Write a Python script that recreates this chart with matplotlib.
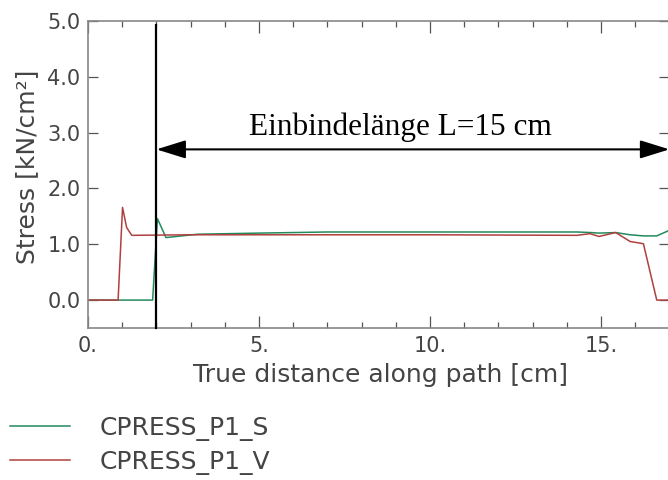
import matplotlib
matplotlib.use("Agg")
import matplotlib.pyplot as plt
from matplotlib.ticker import MultipleLocator, FixedLocator

# Data
dist_s = [0, 1.89, 2.03, 2.28, 3.2, 5, 7, 10, 13, 14.3, 14.7, 14.94, 15.43, 15.85, 16.24, 16.63, 17.0]
cpress_s = [0, 0, 1.46, 1.12, 1.18, 1.20, 1.22, 1.22, 1.22, 1.22, 1.21, 1.20, 1.21, 1.17, 1.15, 1.15, 1.25]

dist_v = [0, 0.88, 1.01, 1.13, 1.28, 3, 5, 10, 14.29, 14.68, 14.94, 15.43, 15.85, 16.24, 16.63, 17.0]
cpress_v = [0, 0, 1.66, 1.30, 1.16, 1.17, 1.17, 1.17, 1.16, 1.19, 1.14, 1.21, 1.05, 1.01, 0, 0]

series_names = ["CPRESS_P1_S", "CPRESS_P1_V"]
x_ticks = [0, 5, 10, 15]
x_tick_labels = ["0.", "5.", "10.", "15."]
y_ticks = [0, 1, 2, 3, 4, 5]
y_tick_labels = ["0.0", "1.0", "2.0", "3.0", "4.0", "5.0"]

marker_x = 2.0
arrow_y = 2.7
annotation = "Einbindelänge L=15 cm"

plt.rcParams['font.family'] = ['DejaVu Sans']

fig = plt.figure(figsize=(6.68, 4.8), dpi=100)
W, H = 668, 480
ax_left, ax_right, ax_top, ax_bottom = 88, 669.4, 21, 328
ax = fig.add_axes([ax_left / W, 1 - ax_bottom / H, (ax_right - ax_left) / W, (ax_bottom - ax_top) / H])

ls, = ax.plot(dist_s, cpress_s, color='#238a5c', lw=1.1, label=series_names[0])
lv, = ax.plot(dist_v, cpress_v, color='#b0403f', lw=1.1, label=series_names[1])

ax.set_xlim(0, 17)
ax.set_ylim(-0.5, 5.0)

ax.xaxis.set_major_locator(FixedLocator(x_ticks))
ax.set_xticklabels(x_tick_labels)
ax.xaxis.set_minor_locator(MultipleLocator(1))
ax.yaxis.set_major_locator(FixedLocator(y_ticks))
ax.set_yticklabels(y_tick_labels)

ax.tick_params(axis='x', which='major', direction='in', length=8.6, width=0.9,
               top=True, bottom=True, color='#555555', labelsize=15, labelcolor='#444444', pad=6)
ax.tick_params(axis='x', which='minor', direction='in', length=4.3, width=0.9,
               top=True, bottom=True, color='#555555')
ax.tick_params(axis='y', which='major', direction='in', length=7, width=0.9,
               left=True, right=True, color='#555555', labelsize=15, labelcolor='#444444', pad=5.5)

for sp in ax.spines.values():
    sp.set_color('#888888')
    sp.set_linewidth(1.2)

# vertical marker line and dimension arrow
ax.plot([marker_x, marker_x], [-0.5, 4.93], color='black', lw=1.6, clip_on=False, zorder=5)
ax.annotate('', xy=(17.0, arrow_y), xytext=(marker_x, arrow_y),
            arrowprops=dict(arrowstyle='<|-|>,head_length=0.9,head_width=0.28',
                            mutation_scale=20, color='black', lw=1.5,
                            shrinkA=0, shrinkB=0),
            annotation_clip=False, zorder=6)
ax.text(9.15, 2.96, annotation, ha='center', va='baseline',
        fontsize=22.5, family=['Liberation Serif', 'DejaVu Serif'], color='black')

fig.text(380 / W, 1 - 375 / H, "True distance along path [cm]", ha='center', va='center',
         fontsize=18, color='#444444')
fig.text(27 / W, 1 - 167 / H, "Stress [kN/cm²]", ha='center', va='center', rotation=90,
         fontsize=18, color='#444444')

fig.legend(handles=[ls, lv], loc='upper left', bbox_to_anchor=(10 / W, 1 - 416 / H),
           frameon=False, fontsize=18, handlelength=2.4, handletextpad=1.2,
           labelspacing=0.36, borderpad=0, borderaxespad=0, labelcolor='#444444')

fig.savefig('out.png', dpi=100)
